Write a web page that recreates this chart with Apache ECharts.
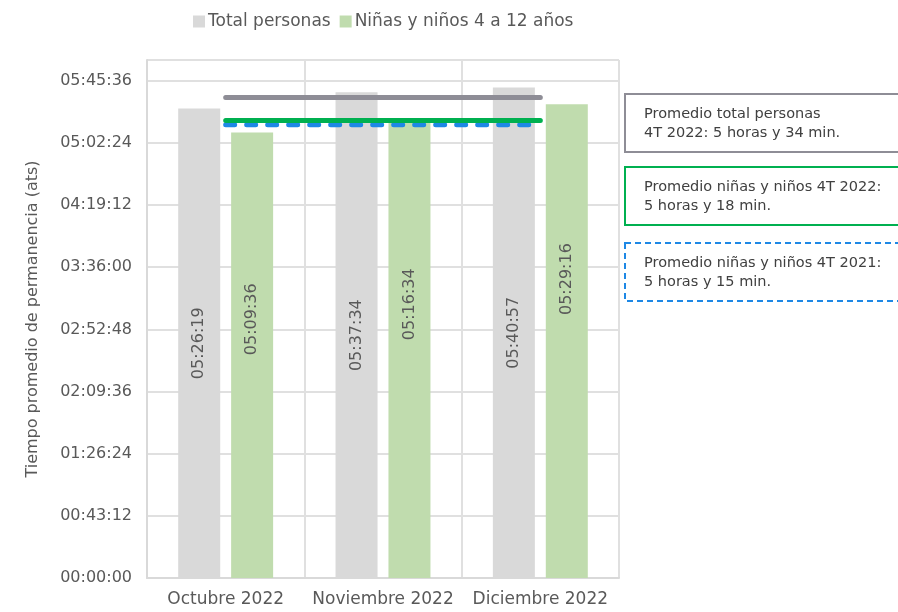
<!DOCTYPE html>
<html>
<head>
<meta charset="utf-8">
<script src="https://cdn.jsdelivr.net/npm/echarts@6/dist/echarts.min.js"></script>
<style>
  html, body { margin: 0; padding: 0; background: #fff; }
  #chart { width: 898px; height: 612px; }
</style>
</head>
<body>
<div id="chart"></div>
<script>
  // datos (hh:mm:ss)
  var categories = ['Octubre 2022', 'Noviembre 2022', 'Diciembre 2022'];
  var totalPersonas = ['05:26:19', '05:37:34', '05:40:57'];
  var ninosNinas = ['05:09:36', '05:16:34', '05:29:16'];
  var promTotal2022 = '05:34:00';
  var promNinos2022 = '05:18:00';
  var promNinos2021 = '05:15:00';

  // desplazamiento de etiquetas verdes (px, hacia arriba)
  var greenLabelShift = [36, 46, 62];

  function toSec(t) {
    var p = t.split(':');
    return (+p[0]) * 3600 + (+p[1]) * 60 + (+p[2]);
  }
  function toHms(s) {
    s = Math.round(s);
    var h = Math.floor(s / 3600), m = Math.floor((s % 3600) / 60), x = s % 60;
    function pad(n) { return (n < 10 ? '0' : '') + n; }
    return pad(h) + ':' + pad(m) + ':' + pad(x);
  }
  function flat(v, n) { var a = []; for (var i = 0; i < n; i++) a.push(toSec(v)); return a; }

  var font = 'DejaVu Sans';
  var txt = '#595959';
  var myChart = echarts.init(document.getElementById('chart'));

  function barLabel() {
    return {
      show: true,
      position: 'inside',
      rotate: 90,
      color: txt,
      fontFamily: font,
      fontSize: 16,
      formatter: function (p) { return toHms(p.value); }
    };
  }

  function boxText(top, lines, color, dashed) {
    return {
      type: 'group',
      left: 624,
      top: top,
      children: [
        {
          type: 'rect',
          shape: { x: 0, y: 0, width: 290, height: 58 },
          style: { fill: '#fff', stroke: color, lineWidth: 2, lineDash: dashed ? [6, 4] : null }
        },
        {
          type: 'text',
          left: 19,
          top: 11,
          style: { text: lines, fill: '#404040', font: '14.5px "' + font + '"', lineHeight: 19 }
        }
      ]
    };
  }

  var option = {
    animation: false,
    backgroundColor: '#fff',
    textStyle: { fontFamily: font },
    legend: {
      top: 8,
      left: 188,
      itemWidth: 12,
      itemHeight: 12,
      itemGap: 9,
      icon: 'rect',
      textStyle: { color: txt, fontSize: 17, fontFamily: font, padding: [0, 0, 0, -2] },
      data: ['Total personas', 'Niñas y niños 4 a 12 años']
    },
    grid: { left: 147, right: 279, top: 60, bottom: 34 },
    xAxis: {
      type: 'category',
      data: categories,
      axisLine: { lineStyle: { color: '#d9d9d9', width: 2 } },
      axisTick: { show: false },
      splitLine: { show: true, interval: 0, lineStyle: { color: '#e0e0e0', width: 2 } },
      axisLabel: { interval: 0, color: txt, fontSize: 17, fontFamily: font, margin: 13 }
    },
    yAxis: {
      type: 'value',
      min: 0,
      max: 21600,
      interval: 2592,
      name: 'Tiempo promedio de permanencia (ats)',
      nameLocation: 'middle',
      nameGap: 106,
      nameTextStyle: { color: txt, fontSize: 16, fontFamily: font },
      axisLine: { show: true, lineStyle: { color: '#d9d9d9', width: 2 } },
      splitLine: { lineStyle: { color: '#e0e0e0', width: 2 } },
      axisLabel: {
        showMaxLabel: false,
        color: txt, fontSize: 16, fontFamily: font, margin: 15,
        formatter: function (v) { return toHms(v); }
      }
    },
    series: [
      {
        name: 'Total personas',
        type: 'bar',
        barWidth: 42,
        barGap: '26%',
        itemStyle: { color: '#d9d9d9' },
        label: barLabel(),
        data: totalPersonas.map(toSec)
      },
      {
        name: 'Niñas y niños 4 a 12 años',
        type: 'bar',
        barWidth: 42,
        itemStyle: { color: '#c0dcae' },
        label: barLabel(),
        data: ninosNinas.map(function (v, i) {
          return { value: toSec(v), label: { offset: [greenLabelShift[i], 0] } };
        })
      },
      {
        name: 'Promedio total 2022',
        type: 'line',
        symbol: 'none',
        z: 5,
        lineStyle: { color: '#8e8d96', width: 5, cap: 'round' },
        data: flat(promTotal2022, categories.length)
      },
      {
        name: 'Promedio niños 2021',
        type: 'line',
        symbol: 'none',
        z: 5,
        lineStyle: { color: '#1e88e5', width: 5, type: [9, 12], cap: 'round' },
        data: flat(promNinos2021, categories.length)
      },
      {
        name: 'Promedio niños 2022',
        type: 'line',
        symbol: 'none',
        z: 6,
        lineStyle: { color: '#00b050', width: 5, cap: 'round' },
        data: flat(promNinos2022, categories.length)
      }
    ],
    graphic: [
      boxText(93, 'Promedio total personas\n4T 2022: 5 horas y 34 min.', '#8e8d96', false),
      boxText(166, 'Promedio niñas y niños 4T 2022:\n5 horas y 18 min.', '#00b050', false),
      boxText(242, 'Promedio niñas y niños 4T 2021:\n5 horas y 15 min.', '#1e88e5', true)
    ]
  };
  myChart.setOption(option);
</script>
</body>
</html>
